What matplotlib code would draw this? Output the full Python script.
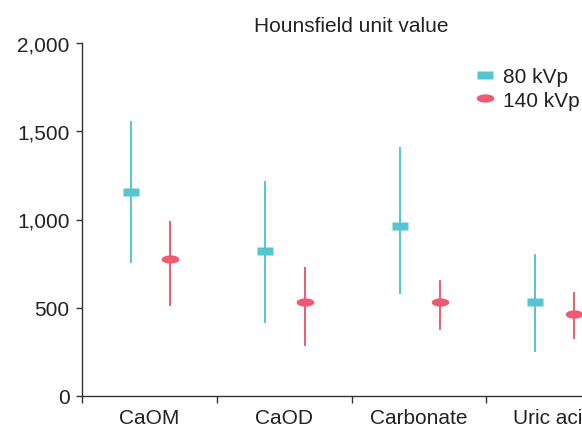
import numpy as np
import matplotlib
matplotlib.use("Agg")
import matplotlib.pyplot as plt
from matplotlib.lines import Line2D
from matplotlib.ticker import StrMethodFormatter

plt.rcParams['font.family'] = ['Liberation Sans', 'DejaVu Sans']

categories = ['CaOM', 'CaOD', 'Carbonate', 'Uric acid']
# values (marker, lower end, upper end)
kvp80_mean = [1157, 822, 965, 534]
kvp80_low = [752, 415, 576, 249]
kvp80_high = [1556, 1217, 1411, 804]
kvp140_mean = [775, 531, 531, 466]
kvp140_low = [512, 283, 376, 323]
kvp140_high = [990, 731, 655, 589]

teal = '#56c5cf'
red = '#ee5a72'
txt = '#222222'

# flat rectangle and flat ellipse markers
rect = [(-1, -0.47), (1, -0.47), (1, 0.47), (-1, 0.47), (-1, -0.47)]
t = np.linspace(0, 2 * np.pi, 60)
ellipse = list(zip(np.cos(t), 0.47 * np.sin(t)))

fig = plt.figure(figsize=(5.82, 4.27), dpi=100)
ax = fig.add_axes([82.3 / 582, 30 / 427, 4 * 134.7 / 582, 353 / 427])

x = np.arange(len(categories))
x80 = x - 0.14
x140 = x + 0.152

m80 = np.array(kvp80_mean)
m140 = np.array(kvp140_mean)
ax.errorbar(x80, m80, yerr=[m80 - np.array(kvp80_low), np.array(kvp80_high) - m80],
            fmt='none', ecolor=teal, elinewidth=1.4, capsize=0)
ax.errorbar(x140, m140, yerr=[m140 - np.array(kvp140_low), np.array(kvp140_high) - m140],
            fmt='none', ecolor=red, elinewidth=1.4, capsize=0)
ax.plot(x80, m80, ls='none', marker=rect, ms=11.3, color=teal, mec='none')
ax.plot(x140, m140, ls='none', marker=ellipse, ms=12.7, color=red, mec='none')

ax.set_xlim(-0.5, len(categories) - 0.5)
ax.set_ylim(0, 2000)
ax.set_yticks([0, 500, 1000, 1500, 2000])
ax.yaxis.set_major_formatter(StrMethodFormatter('{x:,.0f}'))

ax.set_xticks(np.arange(len(categories) + 1) - 0.5)
ax.set_xticklabels([])
ax.set_xticks(x, minor=True)
ax.set_xticklabels(categories, minor=True)
ax.tick_params(axis='x', which='major', length=5, width=1, color='#333333')
ax.tick_params(axis='x', which='minor', length=0, pad=9, labelsize=15, labelcolor=txt)
ax.tick_params(axis='y', length=4.3, width=1, color='#333333', pad=5, labelsize=15, labelcolor=txt)

for s in ['top', 'right']:
    ax.spines[s].set_visible(False)
for s in ['left', 'bottom']:
    ax.spines[s].set_color('#333333')
    ax.spines[s].set_linewidth(1)

ax.set_title('Hounsfield unit value', fontsize=15, color=txt, pad=8.6)

handles = [Line2D([], [], ls='none', marker=rect, ms=11.3, color=teal, mec='none'),
           Line2D([], [], ls='none', marker=ellipse, ms=12.7, color=red, mec='none')]
ax.legend(handles, ['80 kVp', '140 kVp'], loc='center left',
          bbox_to_anchor=(474.6 / 582, 1 - 89.5 / 427), bbox_transform=fig.transFigure,
          frameon=False, fontsize=15, handlelength=1.0, handletextpad=0.37,
          borderpad=0, borderaxespad=0, labelspacing=0.2, labelcolor=txt)

fig.savefig('out.png', dpi=100)
